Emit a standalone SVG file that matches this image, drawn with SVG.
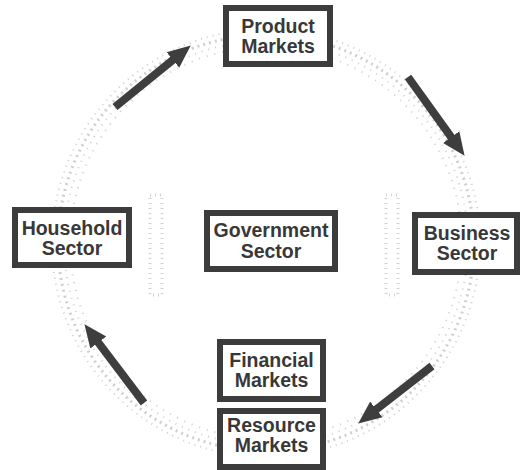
<svg xmlns="http://www.w3.org/2000/svg" width="521" height="470" viewBox="0 0 521 470">
  <style>
    .box rect { fill: #ffffff; stroke: #3c3c3c; stroke-width: 6; }
    .box text { font-family: "Liberation Sans", Arial, sans-serif; font-weight: bold; font-size: 19.5px; fill: #383838; text-anchor: middle; }
    .ring { fill: none; stroke: #b8b8b8; }
    .arrow { stroke: #3e3e3e; stroke-width: 8; fill: none; marker-end: url(#head); }
  </style>
  <defs>
    <marker id="head" markerUnits="userSpaceOnUse" markerWidth="24" markerHeight="22" refX="4" refY="11" orient="auto">
      <path d="M0,1 L23,11 L0,21 Z" fill="#3e3e3e"/>
    </marker>
  </defs>
  <rect width="521" height="470" fill="#ffffff"/>
  <g id="ring" opacity="0.65">
    <circle class="ring" cx="266" cy="243" r="214" stroke-width="2" stroke-dasharray="1 5"/>
    <circle class="ring" cx="266" cy="243" r="208" stroke-width="3" stroke-dasharray="2 4" stroke-dashoffset="2"/>
    <circle class="ring" cx="266" cy="243" r="202" stroke-width="2" stroke-dasharray="1 6" stroke-dashoffset="3"/>
    <circle class="ring" cx="266" cy="243" r="196" stroke-width="2" stroke-dasharray="1 7" stroke-dashoffset="1"/>
    <rect x="150" y="195" width="12" height="100" fill="none" stroke="#bdbdbd" stroke-width="3" stroke-dasharray="1 4"/>
    <rect x="386" y="195" width="12" height="100" fill="none" stroke="#bdbdbd" stroke-width="3" stroke-dasharray="1 4"/>
  </g>
  <g id="connectors">
    <line class="arrow" x1="115" y1="107" x2="176" y2="57.4"/>
    <line class="arrow" x1="408" y1="77" x2="453.5" y2="140.4"/>
    <line class="arrow" x1="432" y1="366" x2="373.2" y2="411.9"/>
    <line class="arrow" x1="144" y1="403" x2="95.9" y2="339.3"/>
  </g>
  <g id="product-markets" class="box">
    <rect x="226" y="8" width="104" height="56"/>
    <text x="278" y="33">Product</text>
    <text x="278" y="53">Markets</text>
  </g>
  <g id="household-sector" class="box">
    <rect x="15" y="210" width="114" height="55"/>
    <text x="72" y="235">Household</text>
    <text x="72" y="255">Sector</text>
  </g>
  <g id="government-sector" class="box">
    <rect x="207" y="213" width="128" height="56"/>
    <text x="271" y="237">Government</text>
    <text x="271" y="258">Sector</text>
  </g>
  <g id="business-sector" class="box">
    <rect x="415" y="215" width="102" height="57"/>
    <text x="467" y="240">Business</text>
    <text x="467" y="260">Sector</text>
  </g>
  <g id="financial-markets" class="box">
    <rect x="220" y="342" width="103" height="57"/>
    <text x="271.5" y="367">Financial</text>
    <text x="271.5" y="387">Markets</text>
  </g>
  <g id="resource-markets" class="box">
    <rect x="220" y="411" width="103" height="56"/>
    <text x="271.5" y="432">Resource</text>
    <text x="271.5" y="452">Markets</text>
  </g>
</svg>
